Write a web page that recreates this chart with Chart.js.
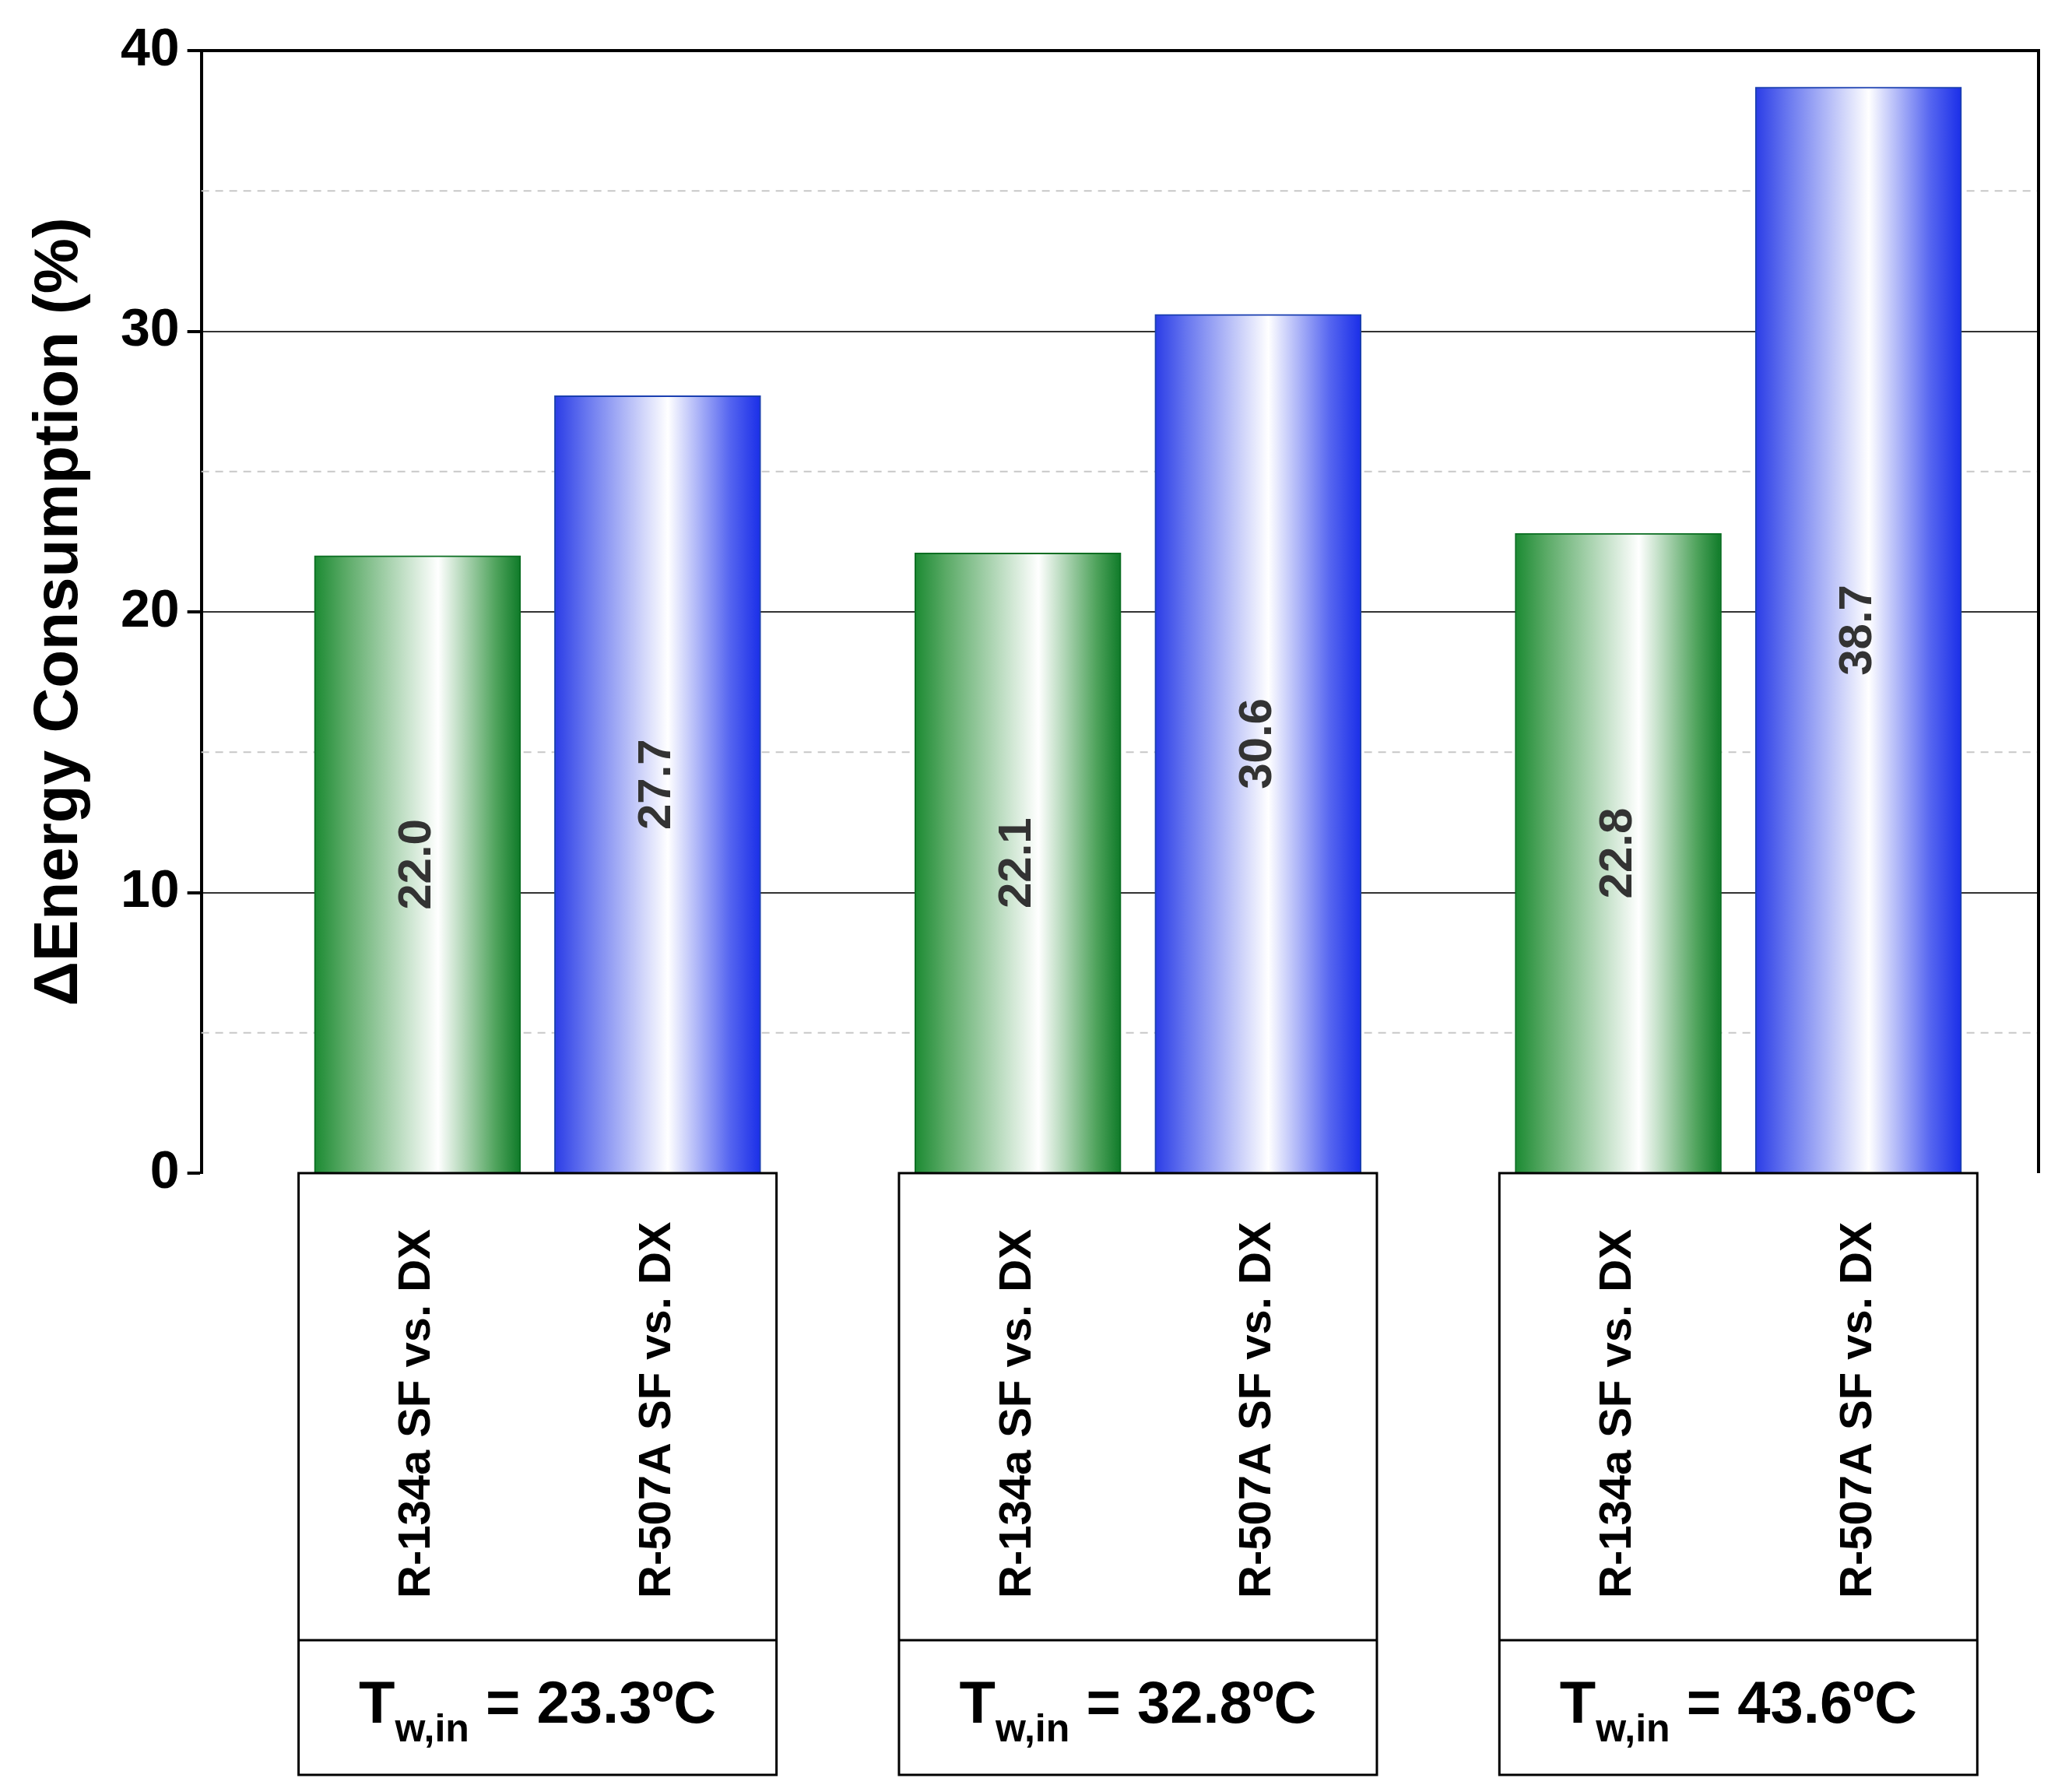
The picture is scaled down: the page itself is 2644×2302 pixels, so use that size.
<!DOCTYPE html>
<html>
<head>
<meta charset="utf-8">
<script src="https://cdn.jsdelivr.net/npm/chart.js@4"></script>
<style>
  body { margin: 0; background: #fff; }
</style>
</head>
<body>
<canvas id="chart" width="2644" height="2302"></canvas>
<script>
const groupLabels = ["23.3", "32.8", "43.6"];
const seriesLabels = ["R-134a SF vs. DX", "R-507A SF vs. DX"];
const seriesValues = [
    [22.0, 22.1, 22.8],
    [27.7, 30.6, 38.7]
];
const yTicks = [0, 10, 20, 30, 40];
const dashedLines = [5, 15, 25, 35];

const FONT = "'Liberation Sans Narrow', 'Liberation Sans', Arial, sans-serif";
const BAR_W = 265;
const GROUP_STEP = 2.5;

function xPos(g, s) {
    return g * GROUP_STEP + s;
}

function makeGradient(ctx, x0, x1, s) {
    let grad = ctx.createLinearGradient(x0, 0, x1, 0);
    if (s === 0) {
        grad.addColorStop(0, '#1b8a32');
        grad.addColorStop(0.15, '#5aaa66');
        grad.addColorStop(0.6, '#ffffff');
        grad.addColorStop(0.88, '#4fa35c');
        grad.addColorStop(1, '#0e7a28');
    } else {
        grad.addColorStop(0, '#2a3ce6');
        grad.addColorStop(0.15, '#6675ef');
        grad.addColorStop(0.55, '#ffffff');
        grad.addColorStop(0.85, '#5565f0');
        grad.addColorStop(1, '#1a2ee8');
    }
    return grad;
}

const datasets = seriesLabels.map((label, s) => ({
    label: label,
    data: seriesValues[s].map((v, g) => ({ x: xPos(g, s), y: v })),
    grouped: false,
    barThickness: BAR_W,
    borderWidth: 2,
    borderColor: s === 0 ? '#0b6e22' : '#1a3fb0',
    borderSkipped: 'bottom',
    backgroundColor: function (c) {
        const chart = c.chart;
        if (!chart.chartArea) return '#fff';
        const px = chart.scales.x.getPixelForValue(xPos(c.dataIndex, s));
        return makeGradient(chart.ctx, px - BAR_W / 2, px + BAR_W / 2, s);
    }
}));

const decorPlugin = {
    id: 'decor',
    beforeDatasetsDraw(chart) {
        const ctx = chart.ctx;
        const a = chart.chartArea;
        const y = chart.scales.y;
        ctx.save();
        ctx.strokeStyle = '#c8c8c8';
        ctx.lineWidth = 2;
        ctx.setLineDash([10, 8]);
        dashedLines.forEach(v => {
            const py = y.getPixelForValue(v);
            ctx.beginPath();
            ctx.moveTo(a.left, py);
            ctx.lineTo(a.right, py);
            ctx.stroke();
        });
        ctx.restore();
    },
    afterDraw(chart) {
        const ctx = chart.ctx;
        const a = chart.chartArea;
        const x = chart.scales.x;
        const y = chart.scales.y;
        ctx.save();
        // frame top and right
        ctx.strokeStyle = '#000';
        ctx.lineWidth = 4;
        ctx.beginPath();
        ctx.moveTo(a.left, a.top);
        ctx.lineTo(a.right, a.top);
        ctx.lineTo(a.right, a.bottom);
        ctx.stroke();

        // value labels
        ctx.fillStyle = '#333';
        ctx.font = 'bold 60px ' + FONT;
        ctx.textAlign = 'center';
        ctx.textBaseline = 'middle';
        seriesValues.forEach((vals, s) => {
            vals.forEach((v, g) => {
                const px = x.getPixelForValue(xPos(g, s));
                const py = y.getPixelForValue(v / 2);
                ctx.save();
                ctx.translate(px, py);
                ctx.rotate(-Math.PI / 2);
                ctx.fillText(v.toFixed(1), 0, 0);
                ctx.restore();
            });
        });

        // label table
        const boxTop = a.bottom;
        const boxMid = 2107;
        const boxBot = 2280;
        ctx.strokeStyle = '#000';
        ctx.lineWidth = 3;
        groupLabels.forEach((t, g) => {
            const c = xPos(g, 0.5);
            const x0 = x.getPixelForValue(c - 0.995);
            const x1 = x.getPixelForValue(c + 0.995);
            ctx.fillStyle = '#fff';
            ctx.fillRect(x0, boxTop, x1 - x0, boxBot - boxTop);
            ctx.strokeRect(x0, boxTop, x1 - x0, boxBot - boxTop);
            ctx.beginPath();
            ctx.moveTo(x0, boxMid);
            ctx.lineTo(x1, boxMid);
            ctx.stroke();

            ctx.fillStyle = '#000';
            ctx.font = 'bold 58px ' + FONT;
            ctx.textAlign = 'left';
            ctx.textBaseline = 'middle';
            seriesLabels.forEach((lab, s) => {
                const px = x.getPixelForValue(xPos(g, s));
                ctx.save();
                ctx.translate(px, 2053);
                ctx.rotate(-Math.PI / 2);
                ctx.fillText(lab, 0, 0);
                ctx.restore();
            });

            // T_w,in = xx.xºC
            const big = 'bold 76px ' + FONT;
            const small = 'bold 50px ' + FONT;
            const rest = ' = ' + t + 'ºC';
            ctx.font = big;
            const wT = ctx.measureText('T').width;
            const wR = ctx.measureText(rest).width;
            ctx.font = small;
            const wS = ctx.measureText('w,in').width;
            let sx = (x0 + x1) / 2 - (wT + wS + wR) / 2;
            const base = 2213;
            ctx.textBaseline = 'alphabetic';
            ctx.font = big;
            ctx.fillText('T', sx, base);
            ctx.font = small;
            ctx.fillText('w,in', sx + wT, base + 24);
            ctx.font = big;
            ctx.fillText(rest, sx + wT + wS, base);
        });
        ctx.restore();
    }
};

new Chart(document.getElementById('chart'), {
    type: 'bar',
    data: { datasets: datasets },
    plugins: [decorPlugin],
    options: {
        responsive: false,
        animation: false,
        devicePixelRatio: 1,
        layout: { padding: { top: 65, right: 25, bottom: 795, left: 25 } },
        plugins: { legend: { display: false }, tooltip: { enabled: false } },
        scales: {
            x: {
                type: 'linear',
                min: -0.9,
                max: 6.75,
                offset: false,
                display: false,
                grid: { display: false }
            },
            y: {
                min: 0,
                max: 40,
                afterBuildTicks: (scale) => { scale.ticks = yTicks.map(v => ({ value: v })); },
                ticks: {
                    color: '#000',
                    font: { family: FONT, size: 68, weight: 'bold' },
                    padding: 10
                },
                grid: {
                    color: (c) => (c.tick && c.tick.value > 0 && c.tick.value < 40) ? '#333' : 'rgba(0,0,0,0)',
                    lineWidth: 2,
                    tickLength: 18,
                    tickColor: '#000',
                    tickWidth: 4
                },
                border: { display: true, color: '#000', width: 4 },
                title: {
                    display: true,
                    text: 'ΔEnergy Consumption (%)',
                    color: '#000',
                    font: { family: FONT, size: 80, weight: 'bold' },
                    padding: { bottom: 20 }
                }
            }
        }
    }
});
</script>
</body>
</html>
